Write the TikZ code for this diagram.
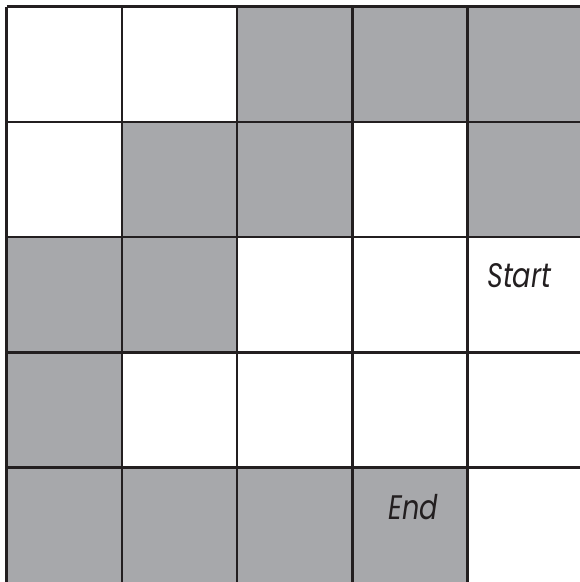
\documentclass[tikz,border=0pt]{standalone}
\usepackage{graphicx}
\usepackage{fontspec}
\newfontfamily\handfont{Poppins}
\definecolor{cellgrey}{HTML}{A7A8AB}
\definecolor{gridline}{HTML}{231F20}
\begin{document}
\begin{tikzpicture}[x=1pt,y=-1pt,
  shaded/.style={fill=cellgrey},
  gridstyle/.style={draw=gridline,line width=2.6pt},
  lbl/.style={anchor=base west,inner sep=0pt,font=\handfont\itshape\fontsize{34}{34}\selectfont,text=gridline}]
\useasboundingbox (0,0) rectangle (580,582);
\def\cs{115.3}
\def\ox{6.5}
\def\oy{6.5}
% shaded cells (col,row)
\foreach \c/\r in {2/0,3/0,4/0, 1/1,2/1,4/1, 0/2,1/2, 0/3, 0/4,1/4,2/4,3/4}{
  \fill[shaded] ({\ox+\c*\cs},{\oy+\r*\cs}) rectangle ({\ox+(\c+1)*\cs},{\oy+(\r+1)*\cs});
}
% grid lines
\foreach \k in {0,...,5}{
  \draw[gridstyle] ({\ox+\k*\cs},{\oy}) -- ({\ox+\k*\cs},{\oy+5*\cs});
  \draw[gridstyle] ({\ox},{\oy+\k*\cs}) -- ({\ox+5*\cs},{\oy+\k*\cs});
}
\node[lbl] (start) at (487,287) {\scalebox{0.8}[1]{Start}};
\node[lbl] (end) at (388,519) {\scalebox{0.8}[1]{End}};
\end{tikzpicture}
\end{document}
